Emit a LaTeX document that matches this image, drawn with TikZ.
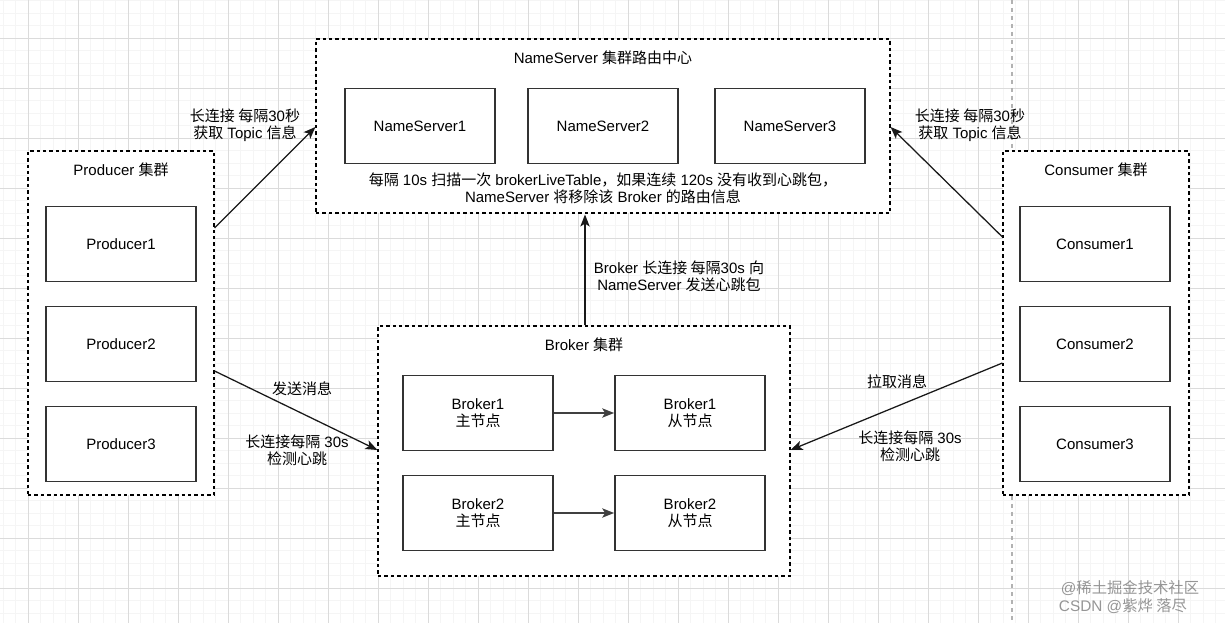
\documentclass[tikz,border=0pt]{standalone}
\usepackage{fontspec}
\setmainfont{Liberation Sans}
\newfontfamily\cjk{Noto Sans CJK SC}
\newcommand\zh[1]{{\cjk #1}}
\usetikzlibrary{arrows.meta}
\begin{document}
\begin{tikzpicture}[x=0.75pt,y=-0.75pt,
  every node/.style={font=\fontsize{11.25pt}{13pt}\selectfont, align=center, inner sep=0pt},
  minorgrid/.style={draw=black!4, line width=0.4pt},
  majorgrid/.style={draw=black!14, line width=0.5pt},
  cluster/.style={draw=black, dash pattern=on 2.6pt off 2.2pt, fill=white, line width=0.85pt},
  box/.style={draw=black!80, fill=white, line width=1.25pt, minimum width=112.5pt, minimum height=56.25pt},
  arr/.style={draw=black!90, line width=0.95pt, -{Stealth[length=9pt, width=7pt, inset=2.2pt]}},
  lbl/.style={text=black},
  wm/.style={text=black!55, opacity=0.75, font=\fontsize{11.5pt}{13pt}\selectfont}
]
\useasboundingbox (0,0) rectangle (1225,623);
\fill[white] (0,0) rectangle (1225,623);
% grid
\foreach \x in {3,15.5,...,1225} \draw[minorgrid] (\x,0) -- (\x,623);
\foreach \y in {0.5,13,...,623} \draw[minorgrid] (0,\y) -- (1225,\y);
\foreach \x in {28,78,...,1225} \draw[majorgrid] (\x,0) -- (\x,623);
\foreach \y in {38,88,...,623} \draw[majorgrid] (0,\y) -- (1225,\y);
\draw[draw=black!30, dash pattern=on 3pt off 3pt, line width=0.8pt] (1012,0) -- (1012,623);

% clusters
\node[cluster, minimum width=430.5pt, minimum height=130.5pt] (nsc) at (603,126) {};
\node[cluster, minimum width=139.5pt, minimum height=258pt] (prodc) at (121,323) {};
\node[cluster, minimum width=139.5pt, minimum height=258pt] (consc) at (1096,323) {};
\node[cluster, minimum width=309pt, minimum height=187.5pt] (brc) at (584,451) {};

% cluster titles
\node (nst) at (603,58) {NameServer \zh{集群路由中心}};
\node (pt) at (121,170) {Producer \zh{集群}};
\node (ct) at (1096,170) {Consumer \zh{集群}};
\node (bt) at (584,345) {Broker \zh{集群}};

% nameservers
\node[box] (ns1) at (420,126) {NameServer1};
\node[box] (ns2) at (603,126) {NameServer2};
\node[box] (ns3) at (790,126) {NameServer3};
\node (nsd) at (603,188.5) {\zh{每隔} 10s \zh{扫描一次} brokerLiveTable\zh{，如果连续} 120s \zh{没有收到心跳包，}\\NameServer \zh{将移除该} Broker \zh{的路由信息}};

% producers
\node[box] (p1) at (121,244) {Producer1};
\node[box] (p2) at (121,344) {Producer2};
\node[box] (p3) at (121,444) {Producer3};

% consumers
\node[box] (c1) at (1095,244) {Consumer1};
\node[box] (c2) at (1095,344) {Consumer2};
\node[box] (c3) at (1095,444) {Consumer3};

% brokers
\node[box] (b1m) at (478,413) {Broker1\\\zh{主节点}};
\node[box] (b1s) at (690,413) {Broker1\\\zh{从节点}};
\node[box] (b2m) at (478,513) {Broker2\\\zh{主节点}};
\node[box] (b2s) at (690,513) {Broker2\\\zh{从节点}};

\draw[arr, draw=black!75, line width=1.1pt] (b1m) -- (b1s);
\draw[arr, draw=black!75, line width=1.1pt] (b2m) -- (b2s);

% connectors
\draw[arr] (prodc.east |- 0,228) -- (nsc.west |- 0,127);
\draw[arr] (consc.west |- 0,237) -- (nsc.east |- 0,127);
\draw[arr] (brc.north -| 585,0) -- (585,214.5);
\draw[arr] (prodc.east |- 0,371) -- (brc.west |- 0,450);
\draw[arr] (consc.west |- 0,363) -- (brc.east |- 0,450);

% labels
\node[lbl] (l1) at (245,125.5) {\zh{长连接 每隔}30\zh{秒}\\\zh{获取} Topic \zh{信息}};
\node[lbl] (l2) at (970,125.5) {\zh{长连接 每隔}30\zh{秒}\\\zh{获取} Topic \zh{信息}};
\node[lbl] (l3) at (679,276.5) {Broker \zh{长连接 每隔}30s \zh{向}\\NameServer \zh{发送心跳包}};
\node[lbl] (l4) at (302,389) {\zh{发送消息}};
\node[lbl] (l5) at (297,450) {\zh{长连接每隔} 30s\\\zh{检测心跳}};
\node[lbl] (l6) at (897,382) {\zh{拉取消息}};
\node[lbl] (l7) at (910,446) {\zh{长连接每隔} 30s\\\zh{检测心跳}};

% watermark
\node[wm] (wm1) at (1130,588) {@\zh{稀土掘金技术社区}};
\node[wm] (wm2) at (1123,606) {CSDN @\zh{紫烨 落尽}};
\end{tikzpicture}
\end{document}
